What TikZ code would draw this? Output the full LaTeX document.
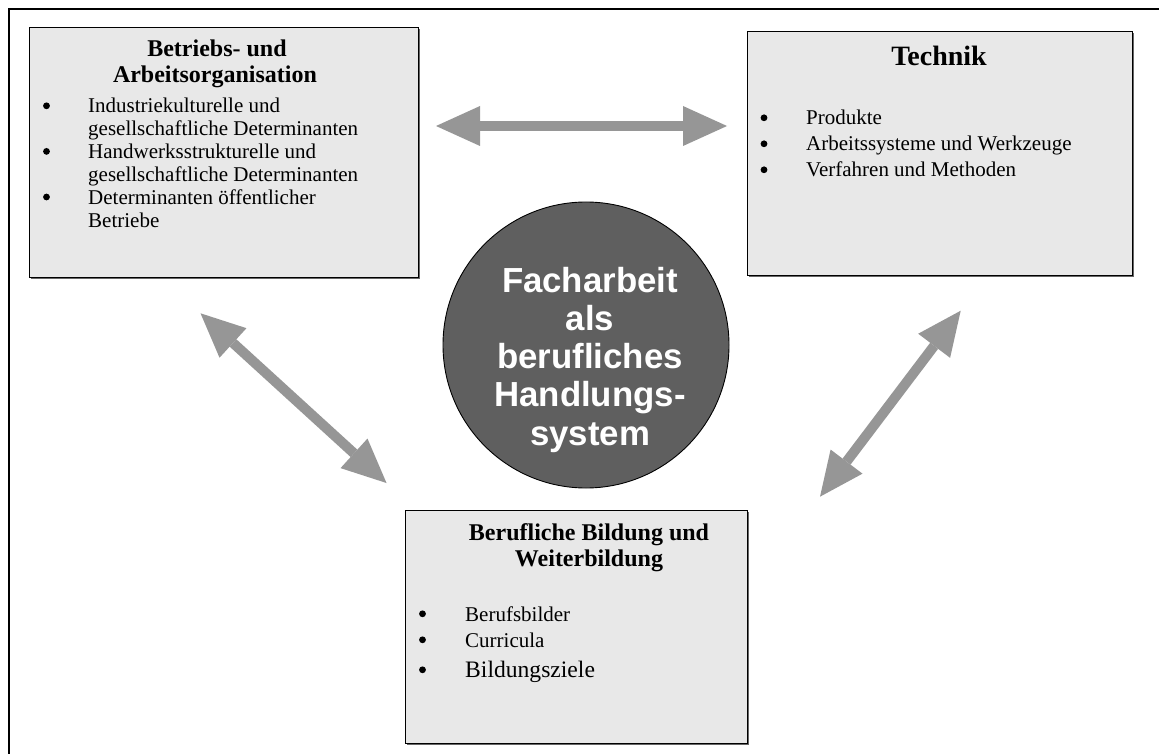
\documentclass[tikz,border=0pt]{standalone}
\usepackage{fontspec}
\setmainfont{Liberation Serif}
\newfontfamily\hubfont{Liberation Sans}
\usetikzlibrary{arrows.meta,shadows}
\definecolor{boxfill}{HTML}{E8E8E8}
\definecolor{hubfill}{HTML}{5F5F5F}
\definecolor{linkgray}{HTML}{969696}

\begin{document}
\begin{tikzpicture}[x=1pt,y=-1pt,
  panel/.style={draw=black, line width=1.1pt, fill=boxfill, anchor=north west,
    inner sep=0pt, general shadow={shadow xshift=1.6pt, shadow yshift=-1.6pt, fill=black!60}},
  hub/.style={circle, draw=black, line width=0.9pt, fill=hubfill, inner sep=0pt, minimum size=286pt},
  headline/.style={anchor=base, inner sep=0pt, font=\bfseries\fontsize{24}{26}\selectfont},
  itemtext/.style={anchor=base west, inner sep=0pt, font=\fontsize{21}{23}\selectfont},
  itemdot/.style={circle, fill=black, inner sep=0pt, minimum size=6.8pt, yshift=7.2pt},
  hubline/.style={anchor=base, inner sep=0pt, text=white, font=\hubfont\bfseries\fontsize{34.8}{38}\selectfont},
  link/.style={draw=linkgray, line width=10pt,
    {Triangle[length=44pt, width=40pt, line width=0pt]}-{Triangle[length=44pt, width=40pt, line width=0pt]}}
]
\useasboundingbox (0,0) rectangle (1159,754);

% outer frame (only the top and left edges lie on the page)
\draw[line width=1.8pt] (1159,9) -- (9,9) -- (9,754);

% panels
\node[panel, minimum width=389pt, minimum height=250pt] (org) at (29,27) {};
\node[panel, minimum width=385pt, minimum height=244pt] (tech) at (747,31) {};
\node[panel, minimum width=342pt, minimum height=233pt] (edu) at (405,510) {};

% central hub
\node[hub] (hub) at (586,345) {};
\node[hubline] (hub1) at (590,292) {Facharbeit};
\node[hubline] (hub2) at (590,330.25) {als};
\node[hubline] (hub3) at (590,368.5) {berufliches};
\node[hubline] (hub4) at (590,406.75) {Handlungs-};
\node[hubline] (hub5) at (590,445) {system};

% Betriebs- und Arbeitsorganisation
\node[headline] (orgt1) at (217,57) {Betriebs- und};
\node[headline] (orgt2) at (215,83) {Arbeitsorganisation};
\node[itemdot] (orgd1) at (46.5,113) {};
\node[itemtext] (orgi1) at (88,113) {Industriekulturelle und};
\node[itemtext] (orgi2) at (88,135.8) {gesellschaftliche Determinanten};
\node[itemdot] (orgd2) at (46.5,158.6) {};
\node[itemtext] (orgi3) at (88,158.6) {Handwerksstrukturelle und};
\node[itemtext] (orgi4) at (88,181.4) {gesellschaftliche Determinanten};
\node[itemdot] (orgd3) at (46.5,204.2) {};
\node[itemtext] (orgi5) at (88,204.2) {Determinanten öffentlicher};
\node[itemtext] (orgi6) at (88,227) {Betriebe};

% Technik
\node[headline, font=\bfseries\fontsize{28}{30}\selectfont] (techt) at (939,66) {Technik};
\node[itemdot] (techd1) at (764,125) {};
\node[itemtext] (techi1) at (806,125) {Produkte};
\node[itemdot] (techd2) at (764,151) {};
\node[itemtext] (techi2) at (806,151) {Arbeitssysteme und Werkzeuge};
\node[itemdot] (techd3) at (764,177) {};
\node[itemtext] (techi3) at (806,177) {Verfahren und Methoden};

% Berufliche Bildung und Weiterbildung
\node[headline] (edut1) at (589,540) {Berufliche Bildung und};
\node[headline] (edut2) at (589,566) {Weiterbildung};
\node[itemdot] (edud1) at (422.5,621) {};
\node[itemtext] (edui1) at (465,621) {Berufsbilder};
\node[itemdot] (edud2) at (422.5,647) {};
\node[itemtext] (edui2) at (465,647) {Curricula};
\node[itemdot] (edud3) at (422.5,677) {};
\node[itemtext, font=\fontsize{23.6}{26}\selectfont] (edui3) at (465,677) {Bildungsziele};

% two-headed links between the three fields
\coordinate (l1a) at (436,126);
\coordinate (l1b) at (727,126);
\coordinate (l2a) at (200.5,313.3);
\coordinate (l2b) at (386.5,483);
\coordinate (l3a) at (960.7,310.7);
\coordinate (l3b) at (820,496.7);
\draw[link] (l1a) -- (l1b);
\draw[link] (l2a) -- (l2b);
\draw[link] (l3a) -- (l3b);
\end{tikzpicture}
\end{document}
